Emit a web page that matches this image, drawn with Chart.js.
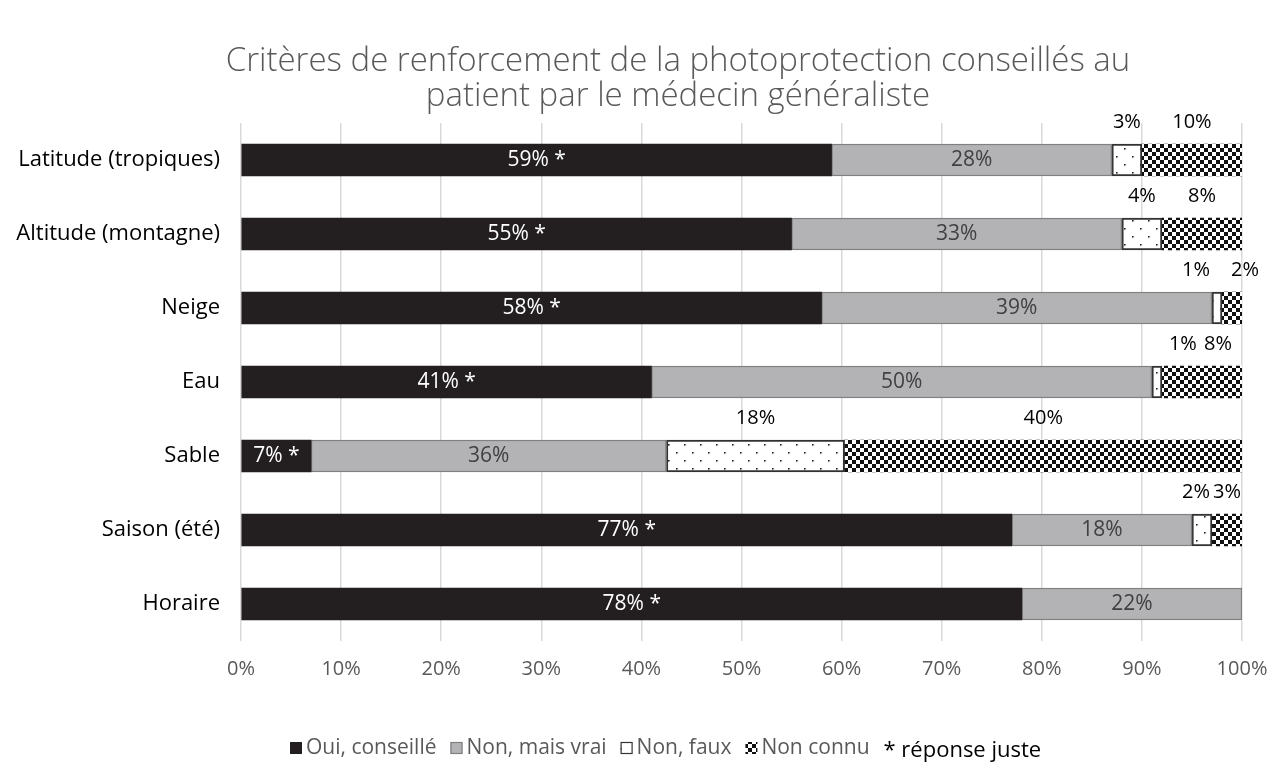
<!DOCTYPE html>
<html>
<head>
<meta charset="utf-8">
<script src="https://cdn.jsdelivr.net/npm/chart.js@4.4.1/dist/chart.umd.min.js"></script>
<style>
html,body{margin:0;padding:0;background:#fff;}
canvas{display:block;}
</style>
</head>
<body>
<canvas id="c" width="1272" height="776"></canvas>
<script>
const titleLines = ["Critères de renforcement de la photoprotection conseillés au", "patient par le médecin généraliste"];
const categories = ["Latitude (tropiques)", "Altitude (montagne)", "Neige", "Eau", "Sable", "Saison (été)", "Horaire"];
const seriesNames = ["Oui, conseillé", "Non, mais vrai", "Non, faux", "Non connu"];
const ouiConseille = [59, 55, 58, 41, 7, 77, 78];
const nonMaisVrai = [28, 33, 39, 50, 35.5, 18, 22];
const nonFaux = [3, 4, 1, 1, 17.8, 2, 0];
const nonConnu = [10, 8, 2, 8, 39.7, 3, 0];
const xTicks = [0, 10, 20, 30, 40, 50, 60, 70, 80, 90, 100];
const footNote = "* réponse juste";

const FONT = "'Open Sans', Lato, sans-serif";

function dotPattern() {
  const c = document.createElement('canvas');
  c.width = 16; c.height = 16;
  const x = c.getContext('2d');
  x.fillStyle = '#fff'; x.fillRect(0, 0, 16, 16);
  x.fillStyle = '#222';
  x.fillRect(4, 4, 1.6, 1.6);
  x.fillRect(12, 12, 1.6, 1.6);
  return x.createPattern(c, 'repeat');
}
function checkerPattern() {
  const c = document.createElement('canvas');
  c.width = 8; c.height = 8;
  const x = c.getContext('2d');
  x.fillStyle = '#fff'; x.fillRect(0, 0, 8, 8);
  x.fillStyle = '#111';
  x.fillRect(0, 0, 4, 4);
  x.fillRect(4, 4, 4, 4);
  return x.createPattern(c, 'repeat');
}
const ctx0 = document.getElementById('c').getContext('2d');
const dots = dotPattern();
const checks = checkerPattern();

const styles = [
  {bg: '#231f20', border: '#231f20', bw: 0},
  {bg: '#b3b3b6', border: '#808080', bw: 1.5},
  {bg: dots, border: '#333333', bw: 2},
  {bg: checks, border: 'rgba(0,0,0,0)', bw: 0}
];
const seriesValues = [ouiConseille, nonMaisVrai, nonFaux, nonConnu];

const datasets = seriesValues.map((vals, i) => ({
  label: seriesNames[i],
  data: vals,
  backgroundColor: styles[i].bg,
  borderColor: styles[i].border,
  borderWidth: styles[i].bw,
  borderSkipped: false,
  barThickness: 32
}));

// small horizontal nudges for outside labels (to avoid overlaps), keyed "datasetIndex-row"
const nudges = {"2-2": -21, "3-2": 13, "2-3": 26, "3-3": 16, "2-5": -6};

const labelPlugin = {
  id: 'labels',
  afterDatasetsDraw(chart) {
    const ctx = chart.ctx;
    ctx.save();
    chart.data.datasets.forEach((ds, di) => {
      const meta = chart.getDatasetMeta(di);
      meta.data.forEach((bar, i) => {
        const v = ds.data[i];
        if (!v) return;
        const cx = (bar.x + bar.base) / 2;
        let txt = Math.round(v) + '%';
        ctx.textAlign = 'center';
        ctx.textBaseline = 'middle';
        if (di === 0) {
          txt += ' *';
          ctx.font = '21px ' + FONT;
          ctx.fillStyle = '#ffffff';
          ctx.fillText(txt, cx, bar.y);
        } else if (di === 1) {
          ctx.font = '21px ' + FONT;
          ctx.fillStyle = '#404040';
          ctx.fillText(txt, cx, bar.y);
        } else {
          ctx.font = '20px ' + FONT;
          ctx.fillStyle = '#000000';
          const dx = nudges[di + '-' + i] || 0;
          ctx.fillText(txt, cx + dx, bar.y - 38);
        }
      });
    });
    ctx.restore();
  }
};

const decoPlugin = {
  id: 'deco',
  afterDraw(chart) {
    const ctx = chart.ctx;
    ctx.save();
    // title
    ctx.fillStyle = '#595959';
    ctx.font = '300 33px ' + FONT;
    ctx.textAlign = 'center';
    ctx.textBaseline = 'middle';
    ctx.fillText(titleLines[0], 678, 62);
    ctx.fillText(titleLines[1], 678, 97);
    // legend
    const y = 748;
    let x = 290;
    ctx.textAlign = 'left';
    ctx.font = '21px ' + FONT;
    seriesNames.forEach((name, i) => {
      const st = styles[i];
      ctx.fillStyle = st.bg;
      ctx.fillRect(x, y - 6, 12, 12);
      if (i === 1 || i === 2) {
        ctx.strokeStyle = st.border;
        ctx.lineWidth = 1.2;
        ctx.strokeRect(x + 0.5, y - 5.5, 11, 11);
      }
      x += 16;
      ctx.fillStyle = '#595959';
      ctx.fillText(name, x, y);
      x += ctx.measureText(name).width + 14;
    });
    ctx.fillStyle = '#000000';
    ctx.font = '22px ' + FONT;
    ctx.fillText(footNote, x, y + 3);
    ctx.restore();
  }
};

new Chart(ctx0, {
  type: 'bar',
  data: {labels: categories, datasets: datasets},
  options: {
    indexAxis: 'y',
    responsive: false,
    animation: false,
    devicePixelRatio: 1,
    layout: {padding: {top: 123, right: 30, bottom: 0, left: 0}},
    plugins: {legend: {display: false}, title: {display: false}, tooltip: {enabled: false}},
    scales: {
      x: {
        stacked: true,
        min: 0, max: 100,
        afterBuildTicks(scale) { scale.ticks = xTicks.map(v => ({value: v})); },
        afterFit(scale) { scale.height = 776 - 641; scale.paddingRight = 0; scale.paddingLeft = 0; },
        grid: {color: '#d9d9d9', lineWidth: 1.5, drawTicks: false},
        border: {display: false},
        ticks: {
          padding: 16,
          color: '#595959',
          font: {family: FONT, size: 20},
          callback: v => v + '%'
        }
      },
      y: {
        stacked: true,
        afterFit(scale) { scale.width = 241; },
        grid: {display: false, drawTicks: false},
        border: {display: false},
        ticks: {
          padding: 21,
          color: '#000000',
          font: {family: FONT, size: 22}
        }
      }
    }
  },
  plugins: [labelPlugin, decoPlugin]
});
</script>
</body>
</html>
